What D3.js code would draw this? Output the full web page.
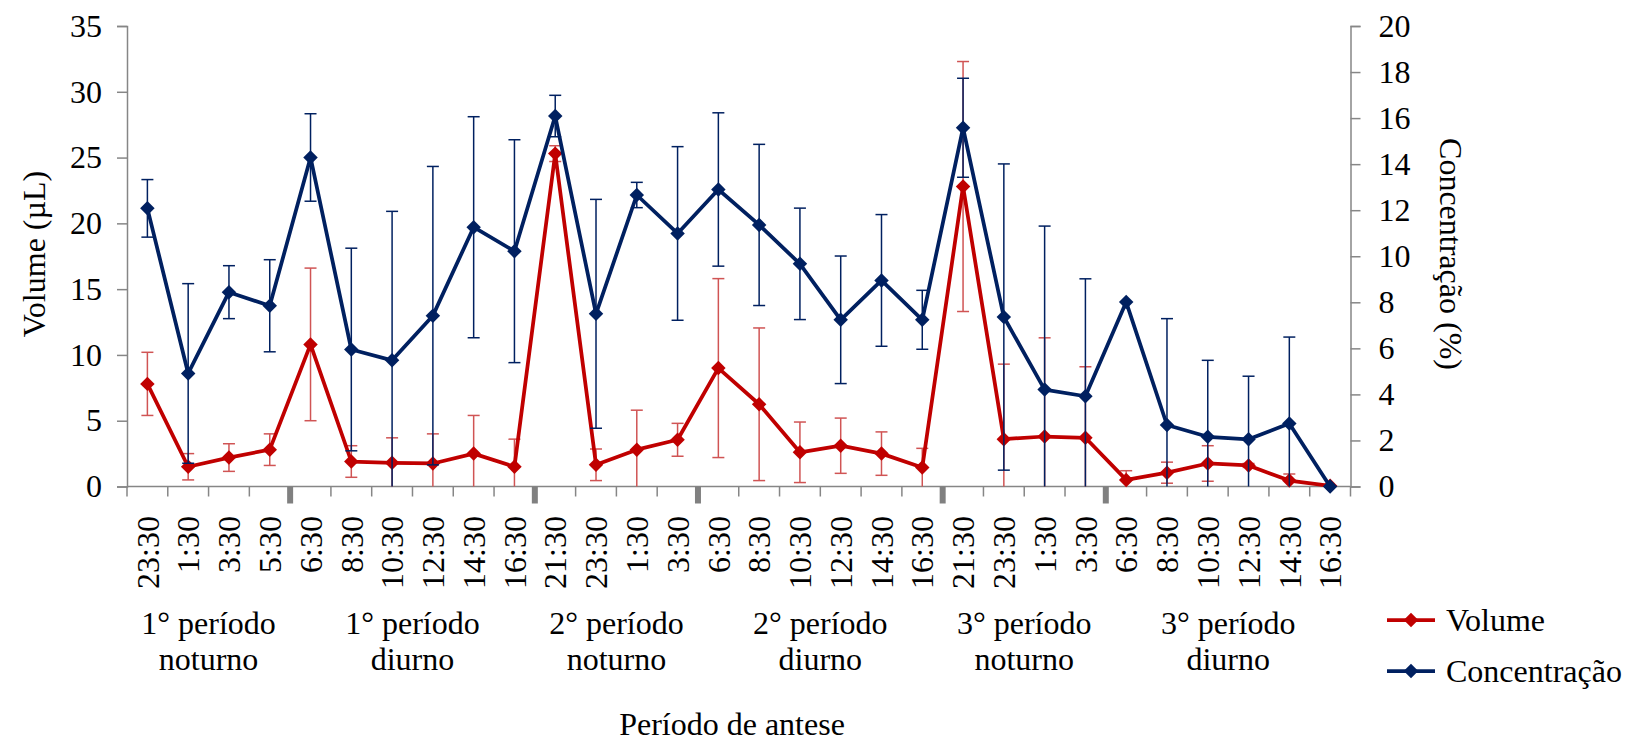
<!DOCTYPE html>
<html>
<head>
<meta charset="utf-8">
<script src="https://cdn.jsdelivr.net/npm/d3@7"></script>
<style>
  body { margin: 0; background: #fff; }
  text { font-family: 'Liberation Serif', 'Times New Roman', Times, serif !important; }
</style>
</head>
<body>
<svg id="chart"></svg>
<script>
// horarios de coleta (eixo x)
const timeLabels = ["23:30", "1:30", "3:30", "5:30",
  "6:30", "8:30", "10:30", "12:30", "14:30", "16:30",
  "21:30", "23:30", "1:30", "3:30",
  "6:30", "8:30", "10:30", "12:30", "14:30", "16:30",
  "21:30", "23:30", "1:30", "3:30",
  "6:30", "8:30", "10:30", "12:30", "14:30", "16:30"];

const groupLabels = [
  ["1° período", "noturno"], ["1° período", "diurno"],
  ["2° período", "noturno"], ["2° período", "diurno"],
  ["3° período", "noturno"], ["3° período", "diurno"]];
const groupSizes = [4, 6, 4, 6, 4, 6];

// volume (µL) e desvio
const volume = [7.8, 1.5, 2.2, 2.8, 10.8, 1.9, 1.8, 1.75, 2.5, 1.5,
  25.3, 1.65, 2.8, 3.55, 9.0, 6.25, 2.6, 3.1, 2.5, 1.45,
  22.8, 3.6, 3.8, 3.7, 0.5, 1.05, 1.75, 1.6, 0.45, 0.05];
const volumeSD = [2.4, 1.0, 1.05, 1.2, 5.8, 1.2, 1.9, 2.25, 2.9, 2.1,
  0.6, 1.2, 3.0, 1.25, 6.8, 5.8, 2.3, 2.1, 1.65, 1.45,
  9.5, 5.7, 7.5, 5.4, 0.7, 0.8, 1.35, 0.15, 0.5, 0];

// concentracao (%) e desvio
const concentracao = [12.08, 4.91, 8.44, 7.85, 14.29, 5.95, 5.48, 7.42, 11.26, 10.22,
  16.09, 7.5, 12.66, 10.99, 12.9, 11.36, 9.67, 7.24, 8.95, 7.24,
  15.58, 7.36, 4.21, 3.92, 8.01, 2.67, 2.16, 2.05, 2.74, 0];
const concentracaoSD = [1.25, 3.9, 1.15, 2.0, 1.9, 4.4, 6.47, 6.48, 4.8, 4.84,
  0.9, 4.97, 0.55, 3.77, 3.33, 3.5, 2.42, 2.77, 2.86, 1.28,
  2.15, 6.65, 7.1, 5.1, 0, 4.62, 3.32, 2.74, 3.75, 0];

const width = 1627, height = 744;
const plotLeft = 127, plotRight = 1350.5, plotTop = 26, plotBottom = 486.5;
const red = "#C00000", blue = "#002060", axisGray = "#868686";
const fontSize = 32;

const svg = d3.select("#chart").attr("width", width).attr("height", height);

const idx = d3.range(timeLabels.length);
const x = d3.scaleBand().domain(idx).range([plotLeft, plotRight]);
const yVol = d3.scaleLinear().domain([0, 35]).range([plotBottom, plotTop]);
const yConc = d3.scaleLinear().domain([0, 20]).range([plotBottom, plotTop]);
const cx = i => x(i) + x.bandwidth() / 2;

// eixos y
const yLeft = svg.append("g")
  .attr("transform", `translate(${plotLeft},0)`)
  .call(d3.axisLeft(yVol).tickValues(d3.range(0, 36, 5)).tickSize(10).tickPadding(15));
const yRight = svg.append("g")
  .attr("transform", `translate(${plotRight},0)`)
  .call(d3.axisRight(yConc).tickValues(d3.range(0, 21, 2)).tickSize(10).tickPadding(18));
[yLeft, yRight].forEach(g => {
  g.attr("font-family", null).attr("font-size", null);
  g.select(".domain").attr("stroke", axisGray).attr("stroke-width", 1.5);
  g.selectAll(".tick line").attr("stroke", axisGray).attr("stroke-width", 1.5);
  g.selectAll(".tick text").attr("font-size", fontSize).attr("fill", "#000");
});

// eixo x: linha, marcas e rotulos
const xg = svg.append("g");
xg.append("line").attr("x1", plotLeft).attr("x2", plotRight).attr("y1", plotBottom).attr("y2", plotBottom)
  .attr("stroke", axisGray).attr("stroke-width", 1.5);
const bounds = d3.range(timeLabels.length + 1);
xg.selectAll(".small").data(bounds).enter().append("line")
  .attr("x1", i => plotLeft + i * x.step()).attr("x2", i => plotLeft + i * x.step())
  .attr("y1", plotBottom).attr("y2", plotBottom + 10)
  .attr("stroke", axisGray).attr("stroke-width", 1.5);
const groupEdges = d3.cumsum(groupSizes).slice(0, -1);
xg.selectAll(".big").data(groupEdges).enter().append("line")
  .attr("x1", i => plotLeft + i * x.step()).attr("x2", i => plotLeft + i * x.step())
  .attr("y1", plotBottom).attr("y2", plotBottom + 17)
  .attr("stroke", "#808080").attr("stroke-width", 6);

xg.selectAll(".tlabel").data(idx).enter().append("text")
  .attr("transform", i => `translate(${cx(i)},516) rotate(-90)`)
  .attr("text-anchor", "end").attr("dy", "0.35em")
  .attr("font-size", fontSize)
  .text(i => timeLabels[i]);

const starts = [0, ...groupEdges];
groupLabels.forEach((lines, g) => {
  const gx = plotLeft + (starts[g] + groupSizes[g] / 2) * x.step();
  const t = xg.append("text").attr("text-anchor", "middle").attr("font-size", fontSize);
  t.append("tspan").attr("x", gx).attr("y", 634).text(lines[0]);
  t.append("tspan").attr("x", gx).attr("y", 670).text(lines[1]);
});

// titulos
svg.append("text").attr("x", 732).attr("y", 735).attr("text-anchor", "middle")
  .attr("font-size", fontSize).text("Período de antese");
svg.append("text").attr("transform", "translate(34,254) rotate(-90)")
  .attr("text-anchor", "middle").attr("dy", "0.35em").attr("font-size", fontSize).text("Volume (µL)");
svg.append("text").attr("transform", "translate(1451,254) rotate(90)")
  .attr("text-anchor", "middle").attr("dy", "0.35em").attr("font-size", fontSize).text("Concentração (%)");

// series
const diamond = d3.symbol(d3.symbolSquare, 105);
function drawSeries(values, sds, yScale, color, barColor) {
  const g = svg.append("g");
  const bars = g.selectAll(".err").data(idx.filter(i => sds[i] > 0)).enter().append("g");
  bars.append("line")
    .attr("x1", cx).attr("x2", cx)
    .attr("y1", i => yScale(values[i] + sds[i]))
    .attr("y2", i => yScale(Math.max(0, values[i] - sds[i])))
    .attr("stroke", barColor).attr("stroke-width", 1.5);
  bars.append("line")
    .attr("x1", i => cx(i) - 6).attr("x2", i => cx(i) + 6)
    .attr("y1", i => yScale(values[i] + sds[i])).attr("y2", i => yScale(values[i] + sds[i]))
    .attr("stroke", barColor).attr("stroke-width", 1.5);
  bars.filter(i => values[i] - sds[i] > 0).append("line")
    .attr("x1", i => cx(i) - 6).attr("x2", i => cx(i) + 6)
    .attr("y1", i => yScale(values[i] - sds[i])).attr("y2", i => yScale(values[i] - sds[i]))
    .attr("stroke", barColor).attr("stroke-width", 1.5);

  g.append("path").datum(idx)
    .attr("fill", "none").attr("stroke", color).attr("stroke-width", 3.75)
    .attr("stroke-linejoin", "round")
    .attr("d", d3.line().x(cx).y(i => yScale(values[i])));
  g.selectAll(".pt").data(idx).enter().append("path")
    .attr("d", diamond)
    .attr("transform", i => `translate(${cx(i)},${yScale(values[i])}) rotate(45)`)
    .attr("fill", color);
}
drawSeries(volume, volumeSD, yVol, red, "#D05454");
drawSeries(concentracao, concentracaoSD, yConc, blue, blue);

// legenda
const legend = svg.append("g");
[["Volume", red, 620], ["Concentração", blue, 671]].forEach(([name, color, ly]) => {
  legend.append("line").attr("x1", 1387).attr("x2", 1435).attr("y1", ly).attr("y2", ly)
    .attr("stroke", color).attr("stroke-width", 3.75);
  legend.append("path").attr("d", diamond)
    .attr("transform", `translate(1411,${ly}) rotate(45)`).attr("fill", color);
  legend.append("text").attr("x", 1446).attr("y", ly).attr("dy", "0.35em")
    .attr("font-size", fontSize).text(name);
});
</script>
</body>
</html>
